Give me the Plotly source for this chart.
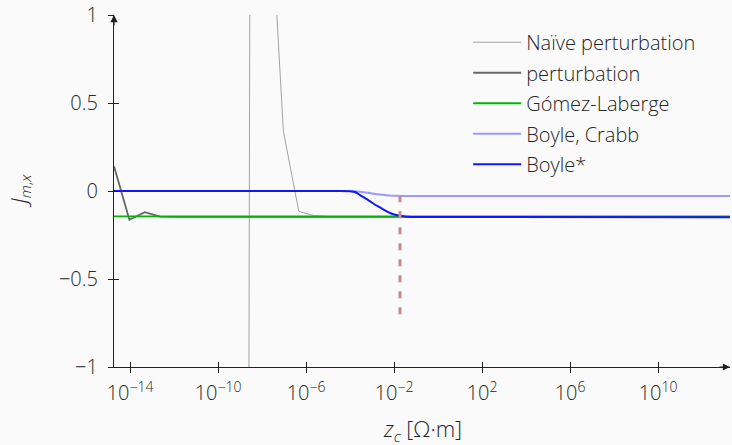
import plotly.graph_objects as go

# log10 of z_c sample positions
log_z = [-14.73, -14.03, -13.33, -12.63, -11.93, -11.23, -10.53, -9.83, -9.13, -8.43,
         -7.73, -7.03, -6.33, -5.63, -4.93, -4.23, -3.53, -2.83, -2.13, -1.43,
         -0.73, -0.03, 0.67, 1.37, 2.07, 2.77, 3.47, 4.17, 4.87, 5.57,
         6.27, 6.97, 7.67, 8.37, 9.07, 9.77, 10.47, 11.17, 11.87, 12.57, 13.27]

naive = [-2.1, -2.3, -2.6, -3.0, -3.6, -4.5, -6.0, -9.5, -30.0, 8.0,
         1.89, 0.339, -0.116, -0.14, -0.146, -0.146, -0.146, -0.146, -0.146, -0.146,
         -0.146, -0.146, -0.146, -0.146, -0.146, -0.146, -0.146, -0.146, -0.146, -0.146,
         -0.146, -0.146, -0.146, -0.146, -0.146, -0.146, -0.146, -0.146, -0.146, -0.146, -0.146]

perturbation = [0.14, -0.163, -0.12, -0.146, -0.147, -0.147, -0.147, -0.147, -0.147, -0.147,
                -0.147, -0.147, -0.147, -0.147, -0.147, -0.147, -0.147, -0.147, -0.147, -0.147,
                -0.147, -0.147, -0.147, -0.147, -0.147, -0.147, -0.147, -0.147, -0.147, -0.147,
                -0.147, -0.147, -0.147, -0.147, -0.147, -0.147, -0.147, -0.147, -0.147, -0.147, -0.147]

gomez = [-0.144] * 41

# Boyle curves are sampled more finely across their transition
boyle_log_z = [-14.73, -8.0, -4.45, -4.0, -3.77, -3.55, -3.32, -3.09, -2.86, -2.64,
               -2.41, -2.18, -1.95, -1.73, -1.42, -0.9, 13.27]
boyle_crabb = [0.0, 0.0, 0.0, 0.0, -0.002, -0.004, -0.008, -0.012, -0.017, -0.020,
               -0.023, -0.026, -0.027, -0.028, -0.028, -0.028, -0.028]
boyle_star = [0.0, 0.0, 0.0, -0.001, -0.006, -0.023, -0.040, -0.059, -0.078, -0.093,
              -0.110, -0.125, -0.135, -0.141, -0.146, -0.148, -0.149]

marker_log_z = -1.73
marker_y = [-0.7, -0.025]

x_tick_exp = [-14, -10, -6, -2, 2, 6, 10]
x_tick_text = ["10<sup>−14</sup>", "10<sup>−10</sup>", "10<sup>−6</sup>", "10<sup>−2</sup>",
               "10<sup>2</sup>", "10<sup>6</sup>", "10<sup>10</sup>"]
y_tick_vals = [-1, -0.5, 0, 0.5, 1]
y_tick_text = ["−1", "−0.5", "0", "0.5", "1"]

z = [10 ** e for e in log_z]
zb = [10 ** e for e in boyle_log_z]
FONT = "Open Sans"
TXT = "#262626"
AX = "#222222"

fig = go.Figure()
series = [
    ("Naïve perturbation", z, naive, "#a3a3a3", 1.0),
    ("perturbation", z, perturbation, "#666666", 1.8),
    ("Gómez-Laberge", z, gomez, "#00b300", 1.8),
    ("Boyle, Crabb", zb, boyle_crabb, "#9999ff", 2.0),
    ("Boyle*", zb, boyle_star, "#1414ff", 2.0),
]
for i, (name, xs, ys, col, w) in enumerate(series):
    fig.add_trace(go.Scatter(x=xs, y=ys, mode="lines", name=name, legendgroup=str(i),
                             line=dict(color=col, width=w, shape="spline", smoothing=0.3)
                             if name.startswith("Boyle") else dict(color=col, width=w)))

fig.add_trace(go.Scatter(x=[10 ** marker_log_z] * 2, y=marker_y, mode="lines",
                         showlegend=False, line=dict(color="#c48c8c", width=3, dash="7px,9px")))

x_range = [log_z[0], log_z[-1]]
common_x = dict(type="log", range=x_range, tickvals=[10 ** e for e in x_tick_exp],
                showgrid=False, zeroline=False, ticklen=5, tickcolor=AX, tickwidth=1)
fig.update_layout(
    width=732, height=445,
    margin=dict(l=114, r=2, t=15, b=78, autoexpand=False),
    paper_bgcolor="#fafafa", plot_bgcolor="#fafafa",
    font=dict(family=FONT, size=20, color=TXT, weight=300),
    xaxis=dict(**common_x, ticktext=x_tick_text, ticks="outside",
               showline=True, linecolor=AX, linewidth=1.2, ticklabelstandoff=3),
    xaxis2=dict(**common_x, overlaying="x", anchor="y", side="bottom", ticks="inside",
                showticklabels=False, showline=False),
    yaxis=dict(range=[-1, 1], tickvals=y_tick_vals, ticktext=y_tick_text, ticks="outside",
               ticklen=5, tickcolor=AX, showgrid=False, zeroline=False,
               showline=True, linecolor=AX, linewidth=1.2, ticklabelstandoff=6),
    yaxis2=dict(range=[-1, 1], tickvals=y_tick_vals, overlaying="y", anchor="x", side="left",
                ticks="inside", ticklen=5, tickcolor=AX, showticklabels=False,
                showgrid=False, zeroline=False),
    legend=dict(x=0.575, y=0.978, xanchor="left", yanchor="top", bgcolor="rgba(0,0,0,0)",
                font=dict(size=20, color=TXT), tracegroupgap=1.5, itemwidth=48),
    showlegend=True,
)
# invisible trace to activate overlay axes
fig.add_trace(go.Scatter(x=[z[0]], y=[0], xaxis="x2", yaxis="y2", mode="markers",
                         marker=dict(opacity=0), showlegend=False, hoverinfo="skip"))

# axis titles
fig.add_annotation(text="<i>z</i><sub><i>c</i></sub> [Ω·m]", xref="paper", yref="paper",
                   x=0.5, y=-0.18, yanchor="middle", showarrow=False, font=dict(size=22))
fig.add_annotation(text="<i>J</i><sub><i>m</i>,<i>x</i></sub>", xref="paper", yref="paper",
                   x=-0.153, y=0.5, xanchor="center", textangle=-90, showarrow=False,
                   font=dict(size=22))
# axis arrows
fig.add_annotation(x=1, y=0, xref="paper", yref="paper", ax=-12, ay=0, text="",
                   showarrow=True, arrowhead=2, arrowsize=1.2, arrowwidth=1.2, arrowcolor=AX)
fig.add_annotation(x=0, y=1, xref="paper", yref="paper", ax=0, ay=12, text="",
                   showarrow=True, arrowhead=2, arrowsize=1.2, arrowwidth=1.2, arrowcolor=AX)

fig.write_html("out.html", config={"displayModeBar": False},
               post_script="document.body.style.margin='0';")
